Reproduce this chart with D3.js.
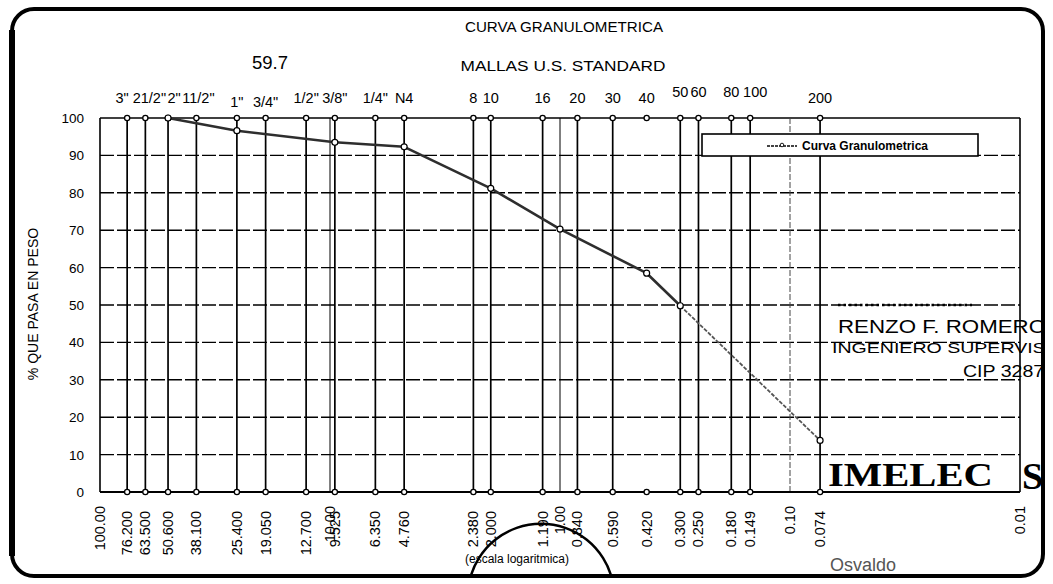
<!DOCTYPE html>
<html>
<head>
<meta charset="utf-8">
<script src="https://cdn.jsdelivr.net/npm/d3@7"></script>
<style>
  html, body { margin: 0; padding: 0; background: #fff; }
  svg { display: block; font-family: "Liberation Sans", Arial, sans-serif; }
</style>
</head>
<body>
<svg id="chart" width="1053" height="584"></svg>
<script>
// Sieve series (U.S. Standard meshes): name, opening in mm, printed size
const sieveNames = ['3"', '21/2"', '2"', '11/2"', '1"', '3/4"', '1/2"', '3/8"', '1/4"', 'N4',
  '8', '10', '16', '20', '30', '40', '50', '60', '80', '100', '200'];
const sieveSizes = [76.2, 63.5, 50.6, 38.1, 25.4, 19.05, 12.7, 9.525, 6.35, 4.76,
  2.38, 2.0, 1.19, 0.84, 0.59, 0.42, 0.30, 0.25, 0.18, 0.149, 0.074];
const sieveLabels = ["76.200", "63.500", "50.600", "38.100", "25.400", "19.050", "12.700", "9.525", "6.350", "4.760",
  "2.380", "2.000", "1.190", "0.840", "0.590", "0.420", "0.300", "0.250", "0.180", "0.149", "0.074"];
// Sieves whose name sits a little higher / lower above the grid
const raisedNames = ['50', '60', '80', '100'];
const loweredNames = ['1"', '3/4"'];
// Sieves drawn with end markers only (no vertical line)
const markerOnly = [0.42];

// Logarithmic axis decades
const decadeValues = [100, 10, 1, 0.1, 0.01];
const decadeLabels = ["100.00", "10.00", "1.00", "0.10", "0.01"];

// Percent-passing axis
const yTicks = [0, 10, 20, 30, 40, 50, 60, 70, 80, 90, 100];

// Grading curve: opening (mm) and % passing
const curveSizes = [50.6, 25.4, 9.525, 4.76, 2.0, 1.0, 0.42, 0.30, 0.074];
const curvePassing = [100, 96.6, 93.5, 92.3, 81.2, 70.3, 58.5, 49.8, 13.8];

const svg = d3.select("#chart");

const x = d3.scaleLog().domain([100, 0.01]).range([100, 1020]);
const y = d3.scaleLinear().domain([0, 100]).range([492, 118]);

// Nudges that keep the crowded coarse-sieve names from colliding
const nameShift = { '3"': -5, '21/2"': 4, '2"': 6, '11/2"': 2, '100': 5 };

// Outer rounded frame
svg.append("rect")
  .attr("x", 12).attr("y", 9).attr("width", 1031).attr("height", 567)
  .attr("rx", 22).attr("ry", 22)
  .attr("fill", "none").attr("stroke", "#000").attr("stroke-width", 4);
svg.append("line").attr("x1", 12).attr("x2", 12).attr("y1", 30).attr("y2", 556)
  .attr("stroke", "#000").attr("stroke-width", 6);

svg.append("clipPath").attr("id", "frameClip")
  .append("rect").attr("x", 14).attr("y", 11).attr("width", 1027).attr("height", 563).attr("rx", 20);

// Titles
svg.append("text").attr("x", 564).attr("y", 32).attr("text-anchor", "middle")
  .attr("font-size", 14).attr("textLength", 198).attr("lengthAdjust", "spacingAndGlyphs")
  .text("CURVA GRANULOMETRICA");
svg.append("text").attr("x", 270).attr("y", 69).attr("text-anchor", "middle")
  .attr("font-size", 18.5).text("59.7");
svg.append("text").attr("x", 563).attr("y", 71).attr("text-anchor", "middle")
  .attr("font-size", 14).attr("textLength", 205).attr("lengthAdjust", "spacingAndGlyphs")
  .text("MALLAS U.S. STANDARD");

// Horizontal grid (dashed)
const grid = svg.append("g");
grid.selectAll("line.h").data(yTicks.filter(v => v > 0)).join("line")
  .attr("x1", x(100)).attr("x2", x(0.01))
  .attr("y1", d => y(d)).attr("y2", d => y(d))
  .attr("stroke", "#000").attr("stroke-width", 1.4)
  .attr("stroke-dasharray", d => d === 100 ? null : "14,3");

// Decade lines
grid.selectAll("line.dec").data(decadeValues).join("line")
  .attr("x1", d => x(d)).attr("x2", d => x(d))
  .attr("y1", y(0)).attr("y2", y(100))
  .attr("stroke", d => d === 0.1 ? "#444" : "#000")
  .attr("stroke-width", d => (d === 100 || d === 0.01) ? 1.6 : 1)
  .attr("stroke-dasharray", d => d === 0.1 ? "6,2" : null);

// Bottom axis line
grid.append("line").attr("x1", x(100)).attr("x2", x(0.01))
  .attr("y1", y(0)).attr("y2", y(0)).attr("stroke", "#000").attr("stroke-width", 1.8);

// Sieve verticals
const sieves = sieveSizes.map((s, i) => ({ size: s, name: sieveNames[i], label: sieveLabels[i] }));
grid.selectAll("line.sieve").data(sieves.filter(d => !markerOnly.includes(d.size))).join("line")
  .attr("x1", d => x(d.size)).attr("x2", d => x(d.size))
  .attr("y1", y(0)).attr("y2", y(100))
  .attr("stroke", "#000").attr("stroke-width", 1.7);

// Sieve end markers
[0, 100].forEach(v => {
  grid.selectAll(null).data(sieves).join("circle")
    .attr("cx", d => x(d.size)).attr("cy", y(v)).attr("r", 2.6)
    .attr("fill", "#fff").attr("stroke", "#000").attr("stroke-width", 1.3);
});

// Grading curve
const curve = curveSizes.map((s, i) => ({ size: s, pass: curvePassing[i] }));
const lineGen = d3.line().x(d => x(d.size)).y(d => y(d.pass));
const lastIdx = curve.length - 1;
svg.append("path").datum(curve.slice(0, lastIdx))
  .attr("d", lineGen).attr("fill", "none")
  .attr("stroke", "#2e2e2e").attr("stroke-width", 2.6).attr("stroke-linejoin", "round");
svg.append("path").datum(curve.slice(lastIdx - 1))
  .attr("d", lineGen).attr("fill", "none")
  .attr("stroke", "#555").attr("stroke-width", 1.8).attr("stroke-dasharray", "4,1.5");
svg.selectAll("circle.pt").data(curve).join("circle")
  .attr("cx", d => x(d.size)).attr("cy", d => y(d.pass)).attr("r", 3)
  .attr("fill", "#fff").attr("stroke", "#000").attr("stroke-width", 1.2);

// Y axis labels and title
svg.append("g").selectAll("text").data(yTicks).join("text")
  .attr("x", 84).attr("y", d => y(d) + 5).attr("text-anchor", "end")
  .attr("font-size", 13.5).text(d => d);
svg.append("text").attr("transform", "translate(38,304) rotate(-90)")
  .attr("text-anchor", "middle").attr("font-size", 14).text("% QUE PASA EN PESO");

// Sieve names above the grid
svg.append("g").selectAll("text").data(sieves).join("text")
  .attr("x", d => x(d.size) + (nameShift[d.name] || 0))
  .attr("y", d => raisedNames.includes(d.name) ? 97 : loweredNames.includes(d.name) ? 107 : 103)
  .attr("text-anchor", "middle").attr("font-size", 14.5).text(d => d.name);

// Opening sizes below the grid (rotated)
const bottomLabels = sieves.map(d => ({ v: d.size, t: d.label }))
  .concat(decadeValues.map((v, i) => ({ v: v, t: decadeLabels[i], decade: true })));
svg.append("g").selectAll("text").data(bottomLabels).join("text")
  .attr("transform", d => `translate(${x(d.v) + 5},${d.decade ? 506 : 511}) rotate(-90)`)
  .attr("text-anchor", "end").attr("font-size", 14.5).text(d => d.t);

svg.append("text").attr("x", 517).attr("y", 563).attr("text-anchor", "middle")
  .attr("font-size", 12).text("(escala logaritmica)");

// Legend
const lg = svg.append("g");
lg.append("rect").attr("x", 702).attr("y", 134).attr("width", 276).attr("height", 22)
  .attr("fill", "#fff").attr("stroke", "#000").attr("stroke-width", 1.6);
lg.append("line").attr("x1", 767).attr("x2", 797).attr("y1", 146).attr("y2", 146)
  .attr("stroke", "#444").attr("stroke-width", 2).attr("stroke-dasharray", "3,1");
lg.append("circle").attr("cx", 782).attr("cy", 145).attr("r", 1.8)
  .attr("fill", "#fff").attr("stroke", "#000").attr("stroke-width", 0.9);
lg.append("text").attr("x", 802).attr("y", 150).attr("font-size", 12).attr("font-weight", "bold")
  .text("Curva Granulometrica");

// Engineer stamp over the plot
const stamp = svg.append("g").attr("clip-path", "url(#frameClip)");
stamp.append("line").attr("x1", 838).attr("x2", 972).attr("y1", 305).attr("y2", 305)
  .attr("stroke", "#000").attr("stroke-width", 2.6).attr("stroke-dasharray", "2.5,3");
stamp.append("text").attr("x", 838).attr("y", 333).attr("font-size", 18)
  .attr("textLength", 208).attr("lengthAdjust", "spacingAndGlyphs").text("RENZO F. ROMERO");
stamp.append("text").attr("x", 832).attr("y", 353).attr("font-size", 15)
  .attr("textLength", 243).attr("lengthAdjust", "spacingAndGlyphs").text("INGENIERO SUPERVISOR");
stamp.append("text").attr("x", 963).attr("y", 377).attr("font-size", 16)
  .attr("textLength", 92).attr("lengthAdjust", "spacingAndGlyphs").text("CIP 32871");
stamp.append("text").attr("x", 828).attr("y", 486).attr("font-size", 34)
  .attr("font-family", "Liberation Serif, serif").attr("font-weight", "bold")
  .attr("textLength", 165).attr("lengthAdjust", "spacingAndGlyphs").text("IMELEC");
stamp.append("text").attr("x", 1022).attr("y", 489).attr("font-size", 38)
  .attr("font-family", "Liberation Serif, serif").attr("font-weight", "bold").text("S");
stamp.append("text").attr("x", 830).attr("y", 571).attr("font-size", 18)
  .attr("fill", "#555").text("Osvaldo");
stamp.append("path")
  .attr("d", d3.arc()({ innerRadius: 72, outerRadius: 74.5, startAngle: -1.35, endAngle: 1.35 }))
  .attr("transform", "translate(541,597)").attr("fill", "#000");
</script>
</body>
</html>
